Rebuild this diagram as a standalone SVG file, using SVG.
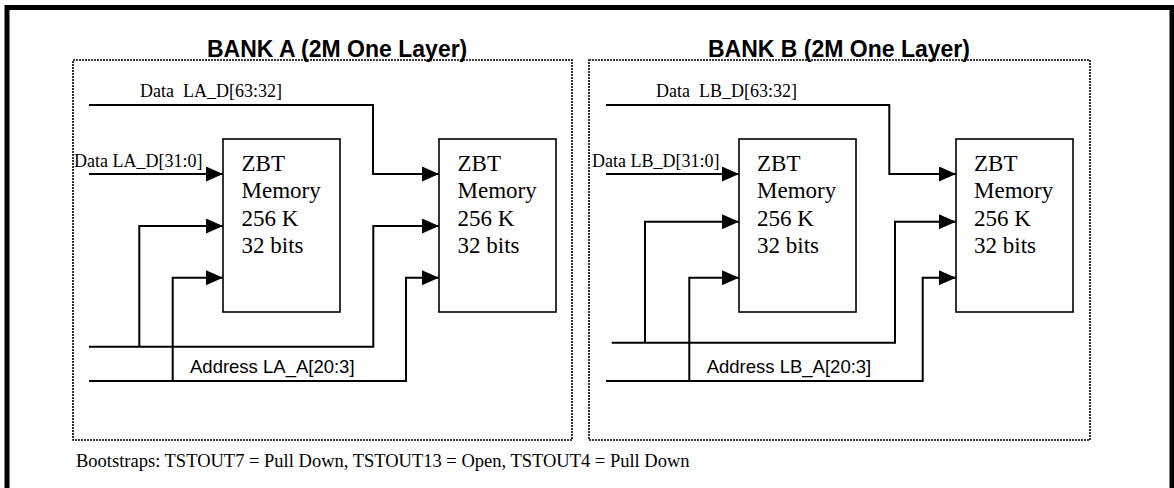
<svg xmlns="http://www.w3.org/2000/svg" width="1174" height="488" viewBox="0 0 1174 488">
<defs>
<style>
.frame{fill:none;stroke:#000;stroke-width:5}
.bank{fill:none;stroke:#000;stroke-width:1.6;stroke-dasharray:2 1}
.box{fill:#fff;stroke:#000;stroke-width:1.6}
.wire{fill:none;stroke:#000;stroke-width:2}
.arr{fill:none;stroke:#000;stroke-width:2;marker-end:url(#ah)}
.title{font-family:"Liberation Sans",Arial,sans-serif;font-weight:bold;font-size:23px;fill:#000}
.btxt{font-family:"Liberation Serif","Times New Roman",serif;font-size:23px;fill:#000}
.lbl{font-family:"Liberation Serif","Times New Roman",serif;font-size:18px;fill:#000}
.note{font-family:"Liberation Serif","Times New Roman",serif;font-size:18.5px;fill:#000}
.alb{font-family:"Liberation Sans",Arial,sans-serif;font-size:18.5px;fill:#000}
</style>
<marker id="ah" markerUnits="userSpaceOnUse" markerWidth="17" markerHeight="15" refX="17" refY="7.5" orient="auto">
<path d="M0,0 L17,7.5 L0,15 Z" fill="#000"/>
</marker>
</defs>
<rect x="0" y="0" width="1174" height="488" fill="#fff"/>
<rect class="frame" x="7" y="7.5" width="1165" height="500"/>

<g id="bankA">
<rect class="bank" x="73" y="60" width="499" height="380"/>
<text class="title" x="207" y="57">BANK A (2M One Layer)</text>
</g>
<g id="bankB">
<rect class="bank" x="589" y="60" width="501" height="380"/>
<text class="title" x="708" y="57">BANK B (2M One Layer)</text>
</g>

<g id="memA1">
<rect class="box" x="223" y="139" width="117" height="173"/>
<text class="btxt" x="241.5" y="170.7">ZBT</text>
<text class="btxt" x="241.5" y="198.3">Memory</text>
<text class="btxt" x="241.5" y="226">256 K</text>
<text class="btxt" x="241.5" y="253.3">32 bits</text>
</g>
<g id="memA2">
<rect class="box" x="439" y="139" width="117" height="173"/>
<text class="btxt" x="457.5" y="170.7">ZBT</text>
<text class="btxt" x="457.5" y="198.3">Memory</text>
<text class="btxt" x="457.5" y="226">256 K</text>
<text class="btxt" x="457.5" y="253.3">32 bits</text>
</g>
<g id="memB1">
<rect class="box" x="739" y="139" width="117" height="173"/>
<text class="btxt" x="757" y="170.7">ZBT</text>
<text class="btxt" x="757" y="198.3">Memory</text>
<text class="btxt" x="757" y="226">256 K</text>
<text class="btxt" x="757" y="253.3">32 bits</text>
</g>
<g id="memB2">
<rect class="box" x="956" y="139" width="117" height="173"/>
<text class="btxt" x="974" y="170.7">ZBT</text>
<text class="btxt" x="974" y="198.3">Memory</text>
<text class="btxt" x="974" y="226">256 K</text>
<text class="btxt" x="974" y="253.3">32 bits</text>
</g>

<g id="connectors">
<!-- Bank A -->
<polyline class="arr" points="89,105 373,105 373,174 439,174"/>
<polyline class="arr" points="89,174 223,174"/>
<polyline class="arr" points="89,346.7 373.3,346.7 373.3,226 439,226"/>
<polyline class="arr" points="139.3,346.7 139.3,226 223,226"/>
<polyline class="arr" points="89,381 406,381 406,277.7 439,277.7"/>
<polyline class="arr" points="172.7,381 172.7,277.7 223,277.7"/>
<!-- Bank B -->
<polyline class="arr" points="606,105 889.3,105 889.3,174 956,174"/>
<polyline class="arr" points="606,174 739,174"/>
<polyline class="arr" points="611.7,342.7 895,342.7 895,221.7 956,221.7"/>
<polyline class="arr" points="645,342.7 645,221.7 739,221.7"/>
<polyline class="arr" points="606,381 922.7,381 922.7,277.7 956,277.7"/>
<polyline class="arr" points="689.3,381 689.3,277.7 739,277.7"/>
</g>

<g id="labels">
<text class="lbl" x="140" y="97.3" xml:space="preserve">Data  LA_D[63:32]</text>
<text class="lbl" x="74" y="166.7">Data LA_D[31:0]</text>
<text class="alb" x="190" y="372.7">Address LA_A[20:3]</text>
<text class="lbl" x="656" y="97.3" xml:space="preserve">Data  LB_D[63:32]</text>
<text class="lbl" x="592" y="166.7">Data LB_D[31:0]</text>
<text class="alb" x="706.7" y="372.7">Address LB_A[20:3]</text>
<text class="note" x="76" y="466.7">Bootstraps: TSTOUT7 = Pull Down, TSTOUT13 = Open, TSTOUT4 = Pull Down</text>
</g>
</svg>
